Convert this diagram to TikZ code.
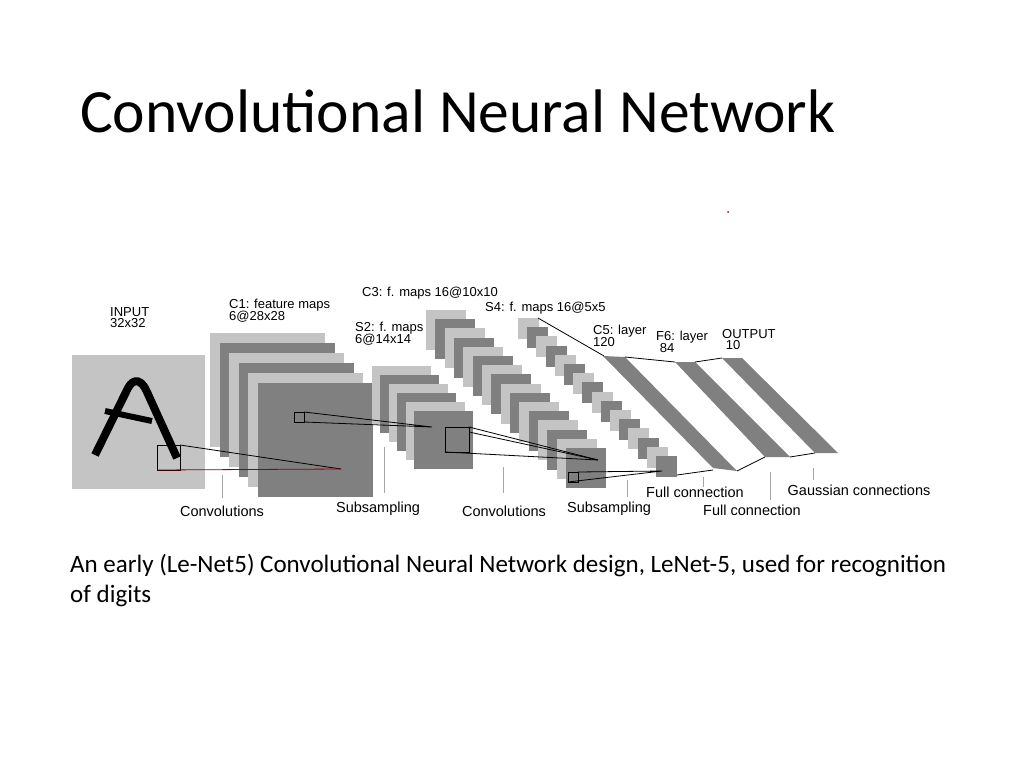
\documentclass[tikz,border=0pt]{standalone}
\usepackage{fontspec}
\setmainfont{Liberation Sans}
\newfontfamily\calib{Carlito}
\begin{document}
\begin{tikzpicture}[x=1pt,y=-1pt,
  lbl/.style={font=\fontsize{14.5}{15}\selectfont,inner sep=0pt,align=left},
  top/.style={font=\fontsize{13}{13.5}\selectfont,inner sep=0pt,align=left,anchor=north west},
  tick/.style={draw=gray!70,line width=1pt},
  conn/.style={draw=black,line width=0.8pt}]
\definecolor{lightmap}{HTML}{C4C4C4}
\definecolor{darkmap}{HTML}{808080}
\useasboundingbox (0,0) rectangle (1024,768);
\node[anchor=base west,inner sep=0pt,font=\calib\fontsize{61.5}{62}\selectfont] (title) at (80,132) {Convolutional Neural Network};
\fill[red!70!black] (728,212) circle (1);
% input
\fill[lightmap] (72,355) rectangle (205,489);
\draw[line width=8pt,line join=round] (95,455) -- (128,388) .. controls (134,377) and (142,380) .. (147,392) -- (177,458);
\draw[line width=6pt] (105,411) -- (152,421);
\node[top] (in) at (110,307) {INPUT\\[-2pt]32x32};
% C1
\foreach \i in {0,...,5}{
  \pgfmathsetmacro\xx{210+\i*9.6}\pgfmathsetmacro\yy{333+\i*10}
  \pgfmathtruncatemacro\odd{mod(\i,2)}
  \ifnum\odd=0 \fill[lightmap] (\xx,\yy) rectangle ++(115,114);\else \fill[darkmap] (\xx,\yy) rectangle ++(115,114);\fi}
\node[top] (c1) at (229,299) {C1: feature maps\\[-2pt]6@28x28};
% S2
\foreach \i in {0,...,5}{
  \pgfmathsetmacro\xx{372+\i*8.4}\pgfmathsetmacro\yy{366+\i*9}
  \pgfmathtruncatemacro\odd{mod(\i,2)}
  \ifnum\odd=0 \fill[lightmap] (\xx,\yy) rectangle ++(59,58);\else \fill[darkmap] (\xx,\yy) rectangle ++(59,58);\fi}
\node[top] (s2) at (355,322) {S2: f. maps\\[-2pt]6@14x14};
% C3
\foreach \i in {0,...,15}{
  \pgfmathsetmacro\xx{426+\i*9.33}\pgfmathsetmacro\yy{310+\i*9.2}
  \pgfmathtruncatemacro\odd{mod(\i,2)}
  \ifnum\odd=0 \fill[lightmap] (\xx,\yy) rectangle ++(40,40);\else \fill[darkmap] (\xx,\yy) rectangle ++(40,40);\fi}
\node[top] (c3) at (362,287) {C3: f. maps 16@10x10};
% S4
\foreach \i in {0,...,15}{
  \pgfmathsetmacro\xx{518+\i*9.2}\pgfmathsetmacro\yy{318+\i*9.2}
  \pgfmathtruncatemacro\odd{mod(\i,2)}
  \ifnum\odd=0 \fill[lightmap] (\xx,\yy) rectangle ++(21,21);\else \fill[darkmap] (\xx,\yy) rectangle ++(21,21);\fi}
\node[top] (s4) at (485,302) {S4: f. maps 16@5x5};
% bands
\fill[darkmap] (603,356) -- (625,357) -- (737,471) -- (713,468) -- cycle;
\fill[darkmap] (675,362) -- (695,362) -- (790,457) -- (765,457) -- cycle;
\fill[darkmap] (722,358) -- (742,358) -- (838,453) -- (815,453) -- cycle;
\node[top] (c5) at (593,325) {C5: layer\\[-2pt]120};
\node[top] (f6) at (656,331) {F6: layer\\[-2pt]\ 84};
\node[top] (out) at (722,329) {OUTPUT\\[-2pt]\ 10};
\draw[conn] (538,318) -- (604,356);
\draw[conn] (625,357) -- (675,362);
\draw[conn] (695,362) -- (722,358);
\draw[conn] (677,475) -- (713,470);
\draw[conn] (737,471) -- (765,457);
\draw[conn] (790,457) -- (815,453);
% receptive fields
\draw[conn] (157,445) rectangle (180,470);
\draw[conn] (180,445) -- (341,469);
\draw[red!60!black,line width=0.8pt] (157,470) -- (341,469);
\draw[conn] (294,412) rectangle (304,422);
\draw[conn] (304,412) -- (432,427) -- (304,422);
\draw[conn] (445,427) rectangle (469,452);
\draw[conn] (469,427) -- (598,460) -- (445,452);
\draw[conn] (469,432) -- (598,460);
\draw[conn] (568,472) rectangle (578,482);
\draw[conn] (578,472) -- (662,471) -- (568,482);
% ticks
\draw[tick] (222,475) -- (222,498);
\draw[tick] (384,447) -- (384,493);
\draw[tick] (503,467) -- (503,493);
\draw[tick] (627,480) -- (627,497);
\draw[tick] (703,477) -- (703,487);
\draw[tick] (770,472) -- (770,500);
\draw[tick] (813,468) -- (813,480);
\node[lbl] (l1) at (222,511) {Convolutions};
\node[lbl] (l2) at (378,509) {Subsampling};
\node[lbl] (l3) at (504,511) {Convolutions};
\node[lbl] (l4) at (609,509) {Subsampling};
\node[lbl] (l5) at (695,492) {Full connection};
\node[lbl] (l6) at (752,510) {Full connection};
\node[lbl] (l7) at (859,490) {Gaussian connections};
\node[anchor=north west,inner sep=0pt,align=left,font=\calib\fontsize{25}{30}\selectfont] (cap) at (70,554) {An early (Le-Net5) Convolutional Neural Network design, LeNet-5, used for recognition\\of digits};
\end{tikzpicture}
\end{document}
